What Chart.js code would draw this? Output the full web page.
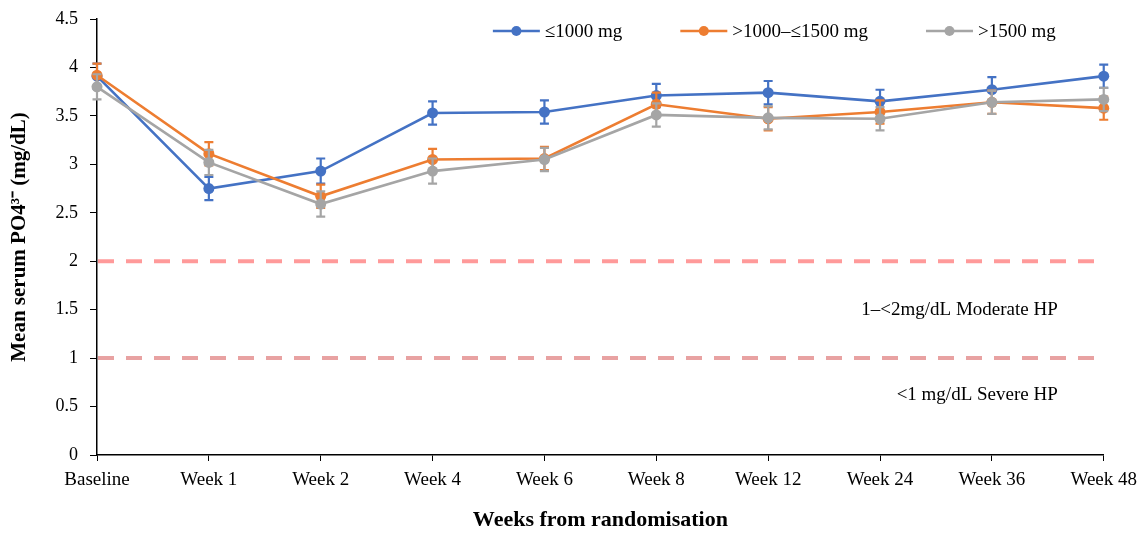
<!DOCTYPE html>
<html><head><meta charset="utf-8">
<script src="https://cdn.jsdelivr.net/npm/chart.js@4/dist/chart.umd.min.js"></script>
<style>html,body{margin:0;padding:0;background:#fff;}#wrap{width:1145px;height:534px;}</style>
</head><body><div id="wrap"><canvas id="c" width="1145" height="534"></canvas></div>
<script>
const categories = ['Baseline','Week 1','Week 2','Week 4','Week 6','Week 8','Week 12','Week 24','Week 36','Week 48'];
const seriesNames = ['≤1000 mg','>1000–≤1500 mg','>1500 mg'];
const seriesColors = ['#4472C4','#ED7D31','#A5A5A5'];
const lowDose = [3.91,2.75,2.93,3.53,3.54,3.71,3.74,3.65,3.77,3.91];
const lowDoseErr = [0.13,0.12,0.13,0.12,0.12,0.12,0.12,0.12,0.13,0.12];
const midDose = [3.92,3.11,2.67,3.05,3.06,3.62,3.47,3.54,3.64,3.58];
const midDoseErr = [0.12,0.12,0.12,0.11,0.12,0.12,0.12,0.12,0.12,0.12];
const highDose = [3.80,3.02,2.59,2.93,3.05,3.51,3.48,3.47,3.64,3.67];
const highDoseErr = [0.13,0.13,0.13,0.13,0.12,0.12,0.12,0.12,0.12,0.12];
const thresholds = [2,1];
const thresholdColors = ['#FF9A9A','#E8A2A2'];
const bandLabels = ['1–<2mg/dL Moderate HP','<1 mg/dL Severe HP'];
const bandLabelValues = [1.5,0.62];
const yTitle = 'Mean serum PO4³⁻ (mg/dL)';
const xTitle = 'Weeks from randomisation';

const FONT = "'Liberation Serif', 'Times New Roman', serif";
Chart.defaults.font.family = FONT;
Chart.defaults.color = '#000';

const errorBars = {
  id: 'errorBars',
  beforeDatasetDraw(chart, args) {
    const ds = chart.data.datasets[args.index];
    if (!ds.err) return;
    const y = chart.scales.y, ctx = chart.ctx;
    ctx.save();
    ctx.strokeStyle = ds.borderColor;
    ctx.lineWidth = 2.2;
    args.meta.data.forEach((pt, i) => {
      const v = ds.data[i], e = ds.err[i];
      const yt = y.getPixelForValue(v + e), yb = y.getPixelForValue(v - e);
      const x = pt.x;
      ctx.beginPath();
      ctx.moveTo(x, yt); ctx.lineTo(x, yb);
      ctx.moveTo(x - 4.5, yt); ctx.lineTo(x + 4.5, yt);
      ctx.moveTo(x - 4.5, yb); ctx.lineTo(x + 4.5, yb);
      ctx.stroke();
    });
    ctx.restore();
  }
};

const bands = {
  id: 'bands',
  beforeDatasetsDraw(chart) {
    const ctx = chart.ctx, y = chart.scales.y, a = chart.chartArea;
    ctx.save();
    thresholds.forEach((t, i) => {
      const py = y.getPixelForValue(t);
      ctx.strokeStyle = thresholdColors[i];
      ctx.lineWidth = 4;
      ctx.setLineDash([16, 12]);
      ctx.beginPath(); ctx.moveTo(a.left + 1, py); ctx.lineTo(a.right, py); ctx.stroke();
    });
    ctx.setLineDash([]);
    ctx.fillStyle = '#000';
    ctx.font = '19px ' + FONT;
    ctx.textAlign = 'right';
    ctx.textBaseline = 'middle';
    bandLabels.forEach((s, i) => ctx.fillText(s, a.right - 46, y.getPixelForValue(bandLabelValues[i])));
    ctx.restore();
  }
};

const customLegend = {
  id: 'customLegend',
  afterDraw(chart) {
    const ctx = chart.ctx, a = chart.chartArea;
    ctx.save();
    ctx.font = '19px ' + FONT;
    const lineW = 47, gap = 5, sep = 58, y = 31;
    const items = chart.data.datasets.map(ds => ({label: ds.label, color: ds.borderColor, w: ctx.measureText(ds.label).width}));
    const total = items.reduce((s, it) => s + lineW + gap + it.w, 0) + sep * (items.length - 1);
    let x = a.right - 48 - total;
    items.forEach(it => {
      ctx.strokeStyle = it.color; ctx.lineWidth = 2.5;
      ctx.beginPath(); ctx.moveTo(x, y); ctx.lineTo(x + lineW, y); ctx.stroke();
      ctx.fillStyle = it.color;
      ctx.beginPath(); ctx.arc(x + lineW / 2, y, 5, 0, Math.PI * 2); ctx.fill();
      ctx.fillStyle = '#000'; ctx.textAlign = 'left'; ctx.textBaseline = 'middle';
      ctx.fillText(it.label, x + lineW + gap, y + 1);
      x += lineW + gap + it.w + sep;
    });
    ctx.restore();
  }
};

function mkSet(label, data, err, color, order) {
  return {
    label, data, err, order,
    borderColor: color, backgroundColor: color,
    pointBackgroundColor: color, pointBorderColor: color, pointBorderWidth: 0,
    pointRadius: 5.5, pointHoverRadius: 5.5,
    borderWidth: 2.6, tension: 0, clip: false, fill: false
  };
}

new Chart(document.getElementById('c'), {
  type: 'line',
  data: {
    labels: categories,
    datasets: [
      mkSet(seriesNames[0], lowDose, lowDoseErr, seriesColors[0], 3),
      mkSet(seriesNames[1], midDose, midDoseErr, seriesColors[1], 2),
      mkSet(seriesNames[2], highDose, highDoseErr, seriesColors[2], 1)
    ]
  },
  options: {
    responsive: false,
    animation: false,
    devicePixelRatio: 1,
    layout: { padding: { left: 7, right: 40, top: 19, bottom: 0 } },
    plugins: { legend: { display: false }, tooltip: { enabled: false } },
    scales: {
      x: {
        type: 'category',
        offset: false,
        grid: { display: true, drawOnChartArea: false, drawTicks: true, tickLength: 6, color: '#000', lineWidth: 1 },
        border: { display: true, color: '#000', width: 1.5 },
        ticks: { padding: 8, color: '#000', font: { size: 19 }, maxRotation: 0, autoSkip: false },
        title: { display: true, text: xTitle, color: '#000', font: { size: 22, weight: 'bold' }, padding: 0 },
        afterFit(s) { s.height = 79; }
      },
      y: {
        min: 0, max: 4.5,
        ticks: { stepSize: 0.5, padding: 12, color: '#000', font: { size: 18 }, callback: v => String(Number(v)) },
        grid: { display: true, drawOnChartArea: false, drawTicks: true, tickLength: 7, color: '#000', lineWidth: 1 },
        border: { display: true, color: '#000', width: 1.5 },
        title: { display: true, text: yTitle, color: '#000', font: { size: 21, weight: 'bold' }, padding: 0 },
        afterFit(s) { s.width = 90; s.paddingTop = 0; s.paddingBottom = 0; }
      }
    }
  },
  plugins: [bands, errorBars, customLegend]
});
</script>
</body></html>
